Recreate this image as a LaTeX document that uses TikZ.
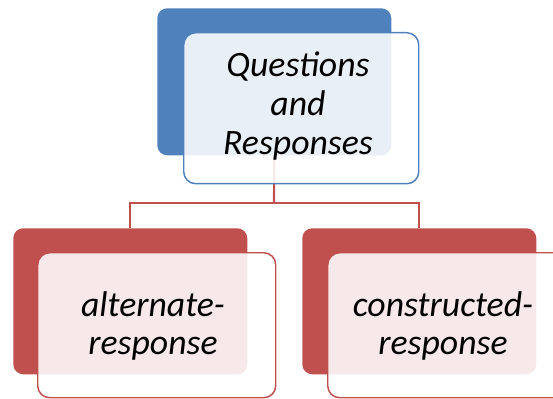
\documentclass[tikz,border=0pt]{standalone}
\usepackage{fontspec}
\setmainfont{Carlito}
\definecolor{accblue}{HTML}{4F81BD}
\definecolor{accred}{HTML}{C0504D}
\begin{document}
\begin{tikzpicture}[x=0.75pt,y=-0.75pt,
  backbox/.style={draw=none,rounded corners=7.5pt,anchor=north west},
  frontbox/.style={fill=white,fill opacity=0.88,line width=1.1pt,rounded corners=9pt,anchor=north west},
  conn/.style={draw=accred,line width=1.6pt},
  lbl/.style={font=\fontsize{26.8}{29}\selectfont\itshape,align=center,text=black}]
\path[use as bounding box] (0,0) rectangle (553,399);
\clip (0,0) rectangle (553,399);
% back boxes
\node[backbox,fill=accblue,minimum width=234*0.75pt,minimum height=147*0.75pt] (qb) at (157,8) {};
\node[backbox,fill=accred,minimum width=234*0.75pt,minimum height=146*0.75pt] (ab) at (13,228) {};
\node[backbox,fill=accred,minimum width=234*0.75pt,minimum height=146*0.75pt] (cb) at (302,228) {};
% connectors
\coordinate (j) at (274,203);
\draw[conn] (qb.south) -- (j);
\draw[conn] (j) -| (ab.north);
\draw[conn] (j) -| (cb.north);
% front boxes
\node[frontbox,draw=accblue,minimum width=235*0.75pt,minimum height=151*0.75pt] (qf) at (183,32) {};
\node[frontbox,draw=accred,minimum width=238*0.75pt,minimum height=145*0.75pt] (af) at (37,252) {};
\node[frontbox,draw=accred,minimum width=238*0.75pt,minimum height=145*0.75pt] (cf) at (327,252) {};
% labels
\node[lbl] (qt) at (298,106) {Questions\\and\\Responses};
\node[lbl] (at) at (153,326) {alternate-\\response};
\node[lbl] (ct) at (443,326) {constructed-\\response};
\end{tikzpicture}
\end{document}
